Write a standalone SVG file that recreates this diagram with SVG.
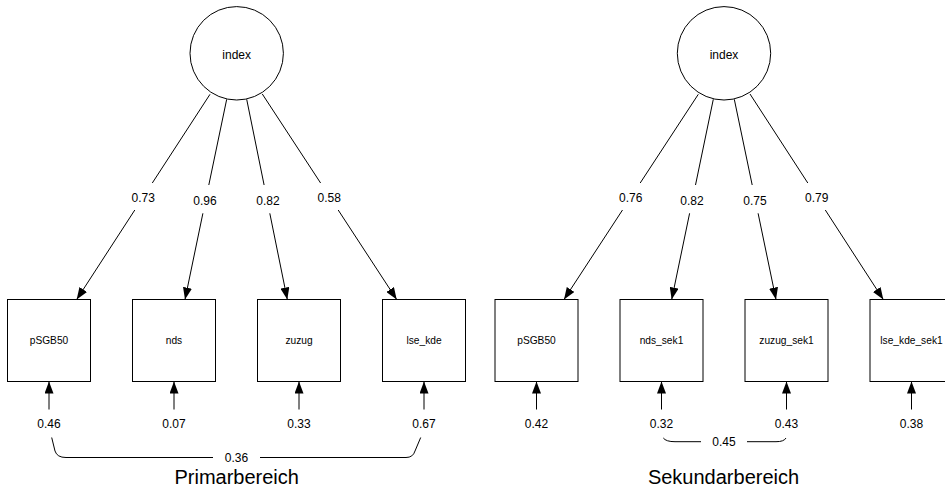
<svg xmlns="http://www.w3.org/2000/svg" width="945" height="490" viewBox="0 0 945 490">
<style>
.n{fill:#fff;stroke:#000;stroke-width:1}
.e{fill:none;stroke:#000;stroke-width:1}
text{font-family:"Liberation Sans",Arial,sans-serif;fill:#000;text-anchor:middle}
.lat{font-size:12px}
.man{font-size:10.2px}
.num{font-size:12px}
.ttl{font-size:20px}
</style>
<defs>
<marker id="ah" markerUnits="userSpaceOnUse" markerWidth="12" markerHeight="9" refX="12" refY="4.5" orient="auto">
<path d="M0,0 L12,4.5 L0,9 z" fill="#000"/>
</marker>
</defs>
<rect width="945" height="490" fill="#fff"/>
<g id="connectors">
<line class="e" x1="210" y1="94.3" x2="152.3" y2="183"/>
<line class="e" x1="134.8" y1="210" x2="76.7" y2="299.5" marker-end="url(#ah)"/>
<line class="e" x1="226.7" y1="99.3" x2="208.8" y2="185"/>
<line class="e" x1="202.9" y1="213.3" x2="185" y2="299.5" marker-end="url(#ah)"/>
<line class="e" x1="246.7" y1="99.3" x2="264.1" y2="185"/>
<line class="e" x1="269.8" y1="213.3" x2="287.3" y2="299.5" marker-end="url(#ah)"/>
<line class="e" x1="262.3" y1="94" x2="320.6" y2="183"/>
<line class="e" x1="338.2" y1="210" x2="396.7" y2="299.5" marker-end="url(#ah)"/>
<line class="e" x1="698.3" y1="94.3" x2="640.2" y2="183"/>
<line class="e" x1="622.5" y1="210" x2="564" y2="299.5" marker-end="url(#ah)"/>
<line class="e" x1="713.3" y1="99.3" x2="695.5" y2="185"/>
<line class="e" x1="689.6" y1="213.3" x2="671.7" y2="299.5" marker-end="url(#ah)"/>
<line class="e" x1="734.3" y1="99.3" x2="752.2" y2="185"/>
<line class="e" x1="758.1" y1="213.3" x2="776" y2="299.5" marker-end="url(#ah)"/>
<line class="e" x1="750" y1="94" x2="807.8" y2="183"/>
<line class="e" x1="825.3" y1="210" x2="883.3" y2="299.5" marker-end="url(#ah)"/>
<line class="e" x1="49" y1="409.5" x2="49" y2="381.5" marker-end="url(#ah)"/>
<line class="e" x1="174" y1="409.5" x2="174" y2="381.5" marker-end="url(#ah)"/>
<line class="e" x1="299" y1="409.5" x2="299" y2="381.5" marker-end="url(#ah)"/>
<line class="e" x1="424" y1="409.5" x2="424" y2="381.5" marker-end="url(#ah)"/>
<line class="e" x1="536.5" y1="409.5" x2="536.5" y2="381.5" marker-end="url(#ah)"/>
<line class="e" x1="661.5" y1="409.5" x2="661.5" y2="381.5" marker-end="url(#ah)"/>
<line class="e" x1="786.5" y1="409.5" x2="786.5" y2="381.5" marker-end="url(#ah)"/>
<line class="e" x1="911.5" y1="409.5" x2="911.5" y2="381.5" marker-end="url(#ah)"/>
<path class="e" d="M51.7,437.5 L55,451 Q57,457.5 66,457.5 L213,457.5 M260,457.5 L406,457.5 Q413,457.5 415,451 L420.7,437.5"/>
<path class="e" d="M663.3,438 Q666,441.7 675,441.7 L701,441.7 M747,441.7 L776,441.7 Q784,441.7 786,438"/>
<text class="num" x="143.3" y="201.5">0.73</text>
<text class="num" x="205" y="205">0.96</text>
<text class="num" x="268" y="205">0.82</text>
<text class="num" x="329.3" y="201.5">0.58</text>
<text class="num" x="630.7" y="201.5">0.76</text>
<text class="num" x="692" y="205">0.82</text>
<text class="num" x="755" y="205">0.75</text>
<text class="num" x="816.7" y="201.5">0.79</text>
<text class="num" x="49" y="428">0.46</text>
<text class="num" x="174" y="428">0.07</text>
<text class="num" x="299" y="428">0.33</text>
<text class="num" x="424" y="428">0.67</text>
<text class="num" x="536.5" y="428">0.42</text>
<text class="num" x="661.5" y="428">0.32</text>
<text class="num" x="786.5" y="428">0.43</text>
<text class="num" x="911.5" y="428">0.38</text>
<text class="num" x="236.5" y="462">0.36</text>
<text class="num" x="724" y="445.5">0.45</text>
</g>
<g id="index1"><circle class="n" cx="236.7" cy="53.3" r="46.7"/><text class="lat" x="236.7" y="58.5">index</text></g>
<g id="index2"><circle class="n" cx="724" cy="53.3" r="46.7"/><text class="lat" x="724" y="58.5">index</text></g>
<g id="pSGB50_1"><rect class="n" x="7.5" y="299.5" width="83" height="82"/><text class="man" x="49" y="344">pSGB50</text></g>
<g id="nds"><rect class="n" x="132.5" y="299.5" width="83" height="82"/><text class="man" x="174" y="344">nds</text></g>
<g id="zuzug"><rect class="n" x="257.5" y="299.5" width="83" height="82"/><text class="man" x="299" y="344">zuzug</text></g>
<g id="lse_kde"><rect class="n" x="382.5" y="299.5" width="83" height="82"/><text class="man" x="424" y="344">lse_kde</text></g>
<g id="pSGB50_2"><rect class="n" x="495" y="299.5" width="83" height="82"/><text class="man" x="536.5" y="344">pSGB50</text></g>
<g id="nds_sek1"><rect class="n" x="620" y="299.5" width="83" height="82"/><text class="man" x="661.5" y="344">nds_sek1</text></g>
<g id="zuzug_sek1"><rect class="n" x="745" y="299.5" width="83" height="82"/><text class="man" x="786.5" y="344">zuzug_sek1</text></g>
<g id="lse_kde_sek1"><rect class="n" x="870" y="299.5" width="83" height="82"/><text class="man" x="911.5" y="344">lse_kde_sek1</text></g>
<text class="ttl" x="236.7" y="484">Primarbereich</text>
<text class="ttl" x="723.5" y="484">Sekundarbereich</text>
</svg>
